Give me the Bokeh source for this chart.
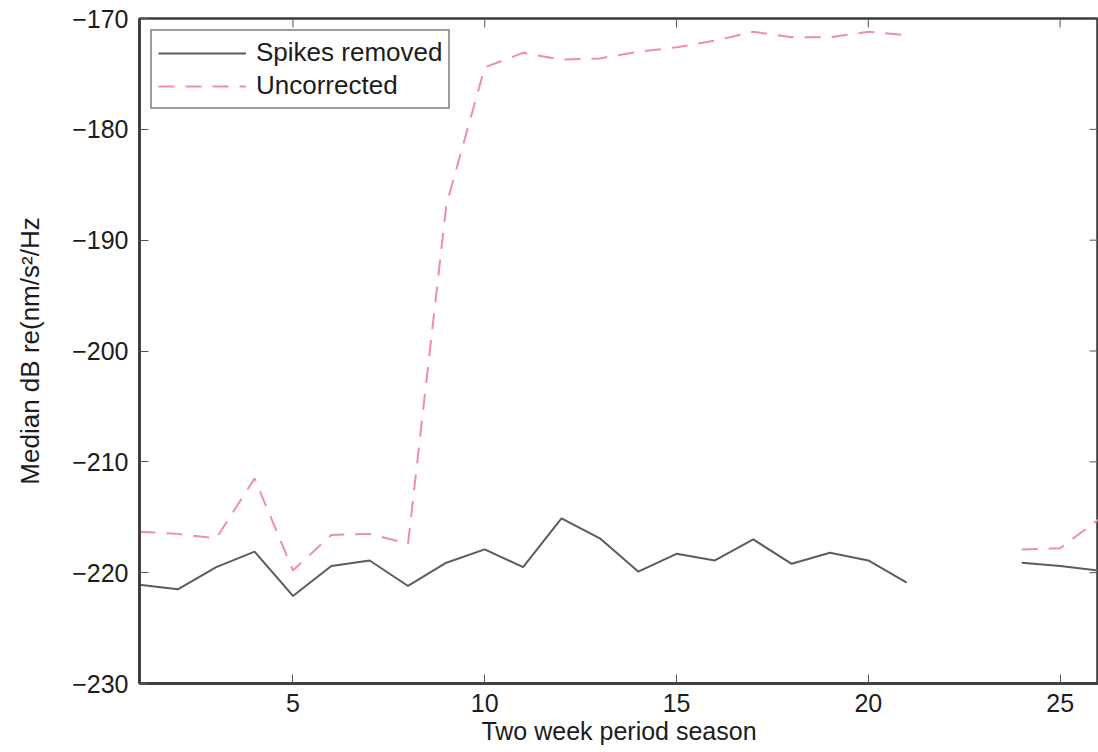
import math
import numpy as np
from bokeh.plotting import figure
from bokeh.models import ColumnDataSource, FixedTicker, Range1d, Legend, LegendItem
from bokeh.embed import file_html
from bokeh.resources import INLINE

nan = float("nan")

# Two-week period index
periods = list(range(1, 27))

# Median dB, spikes removed (solid grey)
spikes_removed = [-221.1, -221.5, -219.5, -218.1, -222.1, -219.4, -218.9, -221.2, -219.1, -217.9,
                  -219.5, -215.1, -216.9, -219.9, -218.3, -218.9, -217.0, -219.2, -218.2, -218.9,
                  -220.9, nan, nan, -219.1, -219.4, -219.8]

# Median dB, uncorrected (dashed pink)
uncorrected = [-216.3, -216.5, -216.9, -211.5, -219.8, -216.6, -216.5, -217.4, -186.8, -174.4,
               -173.1, -173.7, -173.6, -173.0, -172.6, -172.0, -171.2, -171.7, -171.7, -171.2,
               -171.5, nan, nan, -217.9, -217.8, -215.2]

x_ticks = [5, 10, 15, 20, 25]
y_ticks = [-230, -220, -210, -200, -190, -180, -170]
y_tick_labels = ["\u2212230", "\u2212220", "\u2212210", "\u2212200", "\u2212190", "\u2212180", "\u2212170"]

series_names = ["Spikes removed", "Uncorrected"]

X_MIN, X_MAX = 1, 26
Y_MIN, Y_MAX = -230, -170

FONT = "Liberation Sans"
FS = "25px"
TXT = "#1c1c1c"
AX = "#3a3a3a"
TICK = "#555555"
TICK_LEN = 9

src = ColumnDataSource(data=dict(
    x=np.array(periods, dtype=float),
    s=np.array(spikes_removed, dtype=float),
    u=np.array(uncorrected, dtype=float),
))

p = figure(width=1098, height=752, output_backend="svg", toolbar_location=None,
           x_range=Range1d(X_MIN, X_MAX), y_range=Range1d(Y_MIN, Y_MAX),
           min_border_left=139, min_border_right=0, min_border_top=18, min_border_bottom=69,
           background_fill_color="white", border_fill_color="white")
p.outline_line_color = AX
p.outline_line_width = 2.5
p.xgrid.visible = False
p.ygrid.visible = False

r1 = p.line("x", "s", source=src, line_color="#5c5c5c", line_width=2)
r2 = p.line("x", "u", source=src, line_color="#f08ea6", line_width=2, line_dash="16 11")

# inward tick marks on the top and right edges of the box (MATLAB style)
p.ray(x=x_ticks, y=[Y_MAX] * len(x_ticks), length=TICK_LEN, length_units="screen",
      angle=-math.pi / 2, line_color=TICK, line_width=1)
p.ray(x=[X_MAX] * len(y_ticks), y=y_ticks, length=TICK_LEN, length_units="screen",
      angle=math.pi, line_color=TICK, line_width=1)

def style_axis(ax):
    ax.axis_line_color = AX
    ax.axis_line_width = 2.5
    ax.major_tick_in = TICK_LEN
    ax.major_tick_out = 0
    ax.major_tick_line_color = TICK
    ax.major_tick_line_width = 1
    ax.minor_tick_line_color = None
    ax.major_label_text_font = FONT
    ax.major_label_text_font_size = FS
    ax.major_label_text_color = TXT
    ax.axis_label_text_font = FONT
    ax.axis_label_text_font_size = FS
    ax.axis_label_text_font_style = "normal"
    ax.axis_label_text_color = TXT

# bottom axis
xa = p.xaxis[0]
xa.ticker = FixedTicker(ticks=x_ticks)
style_axis(xa)
xa.major_label_standoff = 10
xa.axis_label = "Two week period season"
xa.axis_label_standoff = 2

# left axis
ya = p.yaxis[0]
ya.ticker = FixedTicker(ticks=y_ticks)
ya.major_label_overrides = {t: l for t, l in zip(y_ticks, y_tick_labels)}
style_axis(ya)
ya.major_label_standoff = 11
ya.axis_label = "Median dB re(nm/s\u00b2/Hz"
ya.axis_label_text_font_size = "26px"
ya.axis_label_standoff = 24

legend = Legend(items=[LegendItem(label=series_names[0], renderers=[r1]),
                       LegendItem(label=series_names[1], renderers=[r2])],
                location="top_left")
legend.margin = 11
legend.padding = 6
legend.spacing = 2
legend.glyph_width = 88
legend.label_standoff = 10
legend.label_text_font = FONT
legend.label_text_font_size = "26px"
legend.label_text_color = TXT
legend.border_line_color = AX
legend.border_line_width = 2
legend.background_fill_color = "white"
legend.background_fill_alpha = 1.0
p.add_layout(legend)

open("out.html", "w").write(file_html(p, INLINE))
